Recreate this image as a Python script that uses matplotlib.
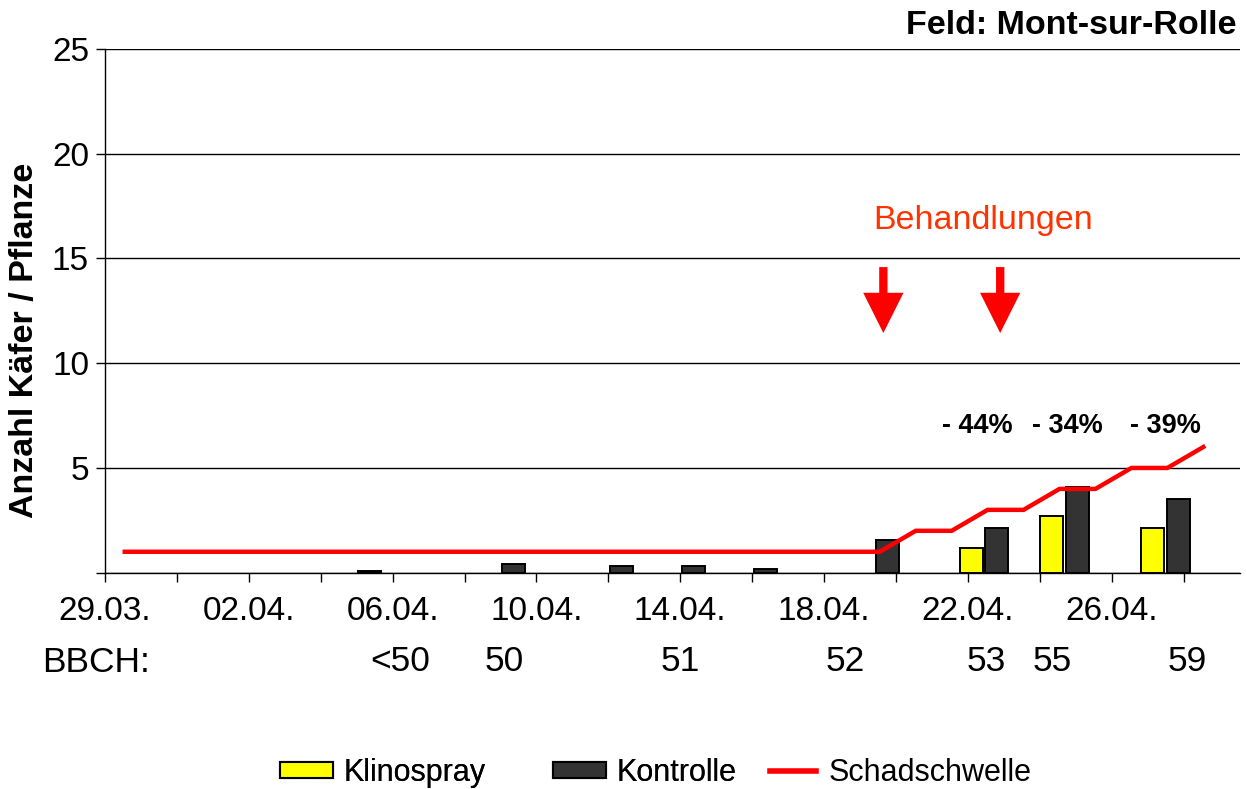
import numpy as np
import matplotlib
matplotlib.use('Agg')
import matplotlib.pyplot as plt
from matplotlib.patches import Patch
from matplotlib.lines import Line2D

plt.rcParams['font.family'] = ['Liberation Sans', 'DejaVu Sans']

# ------------------------------------------------------
# Data (x in days since 29.03.)
date_ticks = [0, 4, 8, 12, 16, 20, 24, 28]
date_labels = ['29.03.', '02.04.', '06.04.', '10.04.', '14.04.', '18.04.', '22.04.', '26.04.']

sample_days = [7, 11, 14, 16, 18, 21.4, 24.45, 26.7, 29.5]
klinospray = [np.nan, np.nan, np.nan, np.nan, np.nan, np.nan, 1.2, 2.7, 2.15]
kontrolle = [0.1, 0.4, 0.3, 0.3, 0.2, 1.55, 2.15, 4.1, 3.5]

threshold_days = [0, 1, 2, 3, 4, 5, 6, 7, 8, 9, 10, 11, 12, 13, 14, 15,
                  16, 17, 18, 19, 20, 21, 22, 23, 24, 25, 26, 27, 28, 29, 30]
threshold_vals = [1, 1, 1, 1, 1, 1, 1, 1, 1, 1, 1, 1, 1, 1, 1, 1,
                  1, 1, 1, 1, 1, 1, 2, 2, 3, 3, 4, 4, 5, 5, 6]

reduction_days = [24.27, 26.76, 29.49]
reduction_labels = ['- 44%', '- 34%', '- 39%']
treatment_days = [21.65, 24.9]

bbch_days = [8.2, 11.1, 16, 20.6, 24.5, 26.35, 30.1]
bbch_labels = ['<50', '50', '51', '52', '53', '55', '59']
# ------------------------------------------------------

# ------------------------------------------------------
# Figure and axes
fig = plt.figure(figsize=(12.47, 7.89), dpi=100)
ax = fig.add_axes([105 / 1247, 1 - 572.7 / 789, 1135 / 1247, 523.7 / 789])

bar_w = 0.64
shift = 0.36
x = np.array(sample_days)
ax.bar(x - shift, klinospray, width=bar_w, color='#FFFF00', edgecolor='black', linewidth=1.4, zorder=3)
ax.bar(x + shift, kontrolle, width=bar_w, color='#333333', edgecolor='black', linewidth=1.4, zorder=3)
ax.plot(np.array(threshold_days) + 0.55, threshold_vals, color='#FF0000', lw=3.2, zorder=4,
        solid_joinstyle='miter')

ax.set_xlim(0, 31.57)
ax.set_ylim(0, 25)
ax.set_yticks([0, 5, 10, 15, 20, 25])
ax.set_yticklabels(['', '5', '10', '15', '20', '25'])
ax.set_xticks(date_ticks)
ax.set_xticklabels(date_labels)
ax.set_xticks(np.arange(0, 31, 2), minor=True)
ax.tick_params(axis='y', direction='out', length=6.5, width=1, pad=5, labelsize=24)
ax.tick_params(axis='x', which='both', direction='out', length=6.5, width=1, pad=10.5, labelsize=24)
ax.grid(axis='y', color='black', lw=1)
ax.set_axisbelow(True)
for side in ['top', 'right']:
    ax.spines[side].set_visible(False)
ax.spines['left'].set_linewidth(1)
ax.spines['bottom'].set_linewidth(1)
# ------------------------------------------------------

# ------------------------------------------------------
# Annotations
for xd, lab in zip(reduction_days, reduction_labels):
    ax.text(xd, 7.0, lab, ha='center', va='center', fontsize=19.5, fontweight='bold')

ax.text(24.42, 16.8, 'Behandlungen', ha='center', va='center', fontsize=24.5, color='#FF3300')
for xd in treatment_days:
    ax.annotate('', xy=(xd, 11.44), xytext=(xd, 14.59),
                arrowprops=dict(arrowstyle='simple,head_length=29,head_width=29,tail_width=6',
                                mutation_scale=1, color='#FF0000', shrinkA=0, shrinkB=0, lw=0))

trans = ax.get_xaxis_transform()
for xd, lab in zip(bbch_days, bbch_labels):
    ax.text(xd, -0.1705, lab, transform=trans, ha='center', va='center', fontsize=25.5)
fig.text(42 / 1247, 1 - 662 / 789, 'BBCH:', ha='left', va='center', fontsize=25.5)

fig.text(1237 / 1247, 1 - 25 / 789, 'Feld: Mont-sur-Rolle', ha='right', va='center',
         fontsize=24.5, fontweight='bold')
fig.text(25 / 1247, 1 - 340 / 789, 'Anzahl Käfer / Pflanze', ha='center', va='center',
         rotation=90, fontsize=24.5, fontweight='bold')
# ------------------------------------------------------

# ------------------------------------------------------
# Legend (bars and line in two parts, like the original spacing)
bar_handles = [Patch(facecolor='#FFFF00', edgecolor='black', linewidth=1.5, label='Klinospray'),
               Patch(facecolor='#333333', edgecolor='black', linewidth=1.5, label='Kontrolle')]
line_handles = [Line2D([], [], color='#FF0000', lw=4, label='Schadschwelle')]
leg_y = 1 - 773 / 789
leg1 = fig.legend(handles=bar_handles, loc='center left', bbox_to_anchor=(280 / 1247, leg_y), ncol=2,
                  frameon=False, fontsize=22, handlelength=1.75, handleheight=0.46,
                  handletextpad=0.33, columnspacing=2.2, borderpad=0, borderaxespad=0)
fig.add_artist(leg1)
fig.legend(handles=line_handles, loc='center left', bbox_to_anchor=(770 / 1247, leg_y),
           frameon=False, fontsize=22, handlelength=1.5, handleheight=0.46,
           handletextpad=0.42, borderpad=0, borderaxespad=0)

fig.savefig('out.png', dpi=100)
# ------------------------------------------------------
